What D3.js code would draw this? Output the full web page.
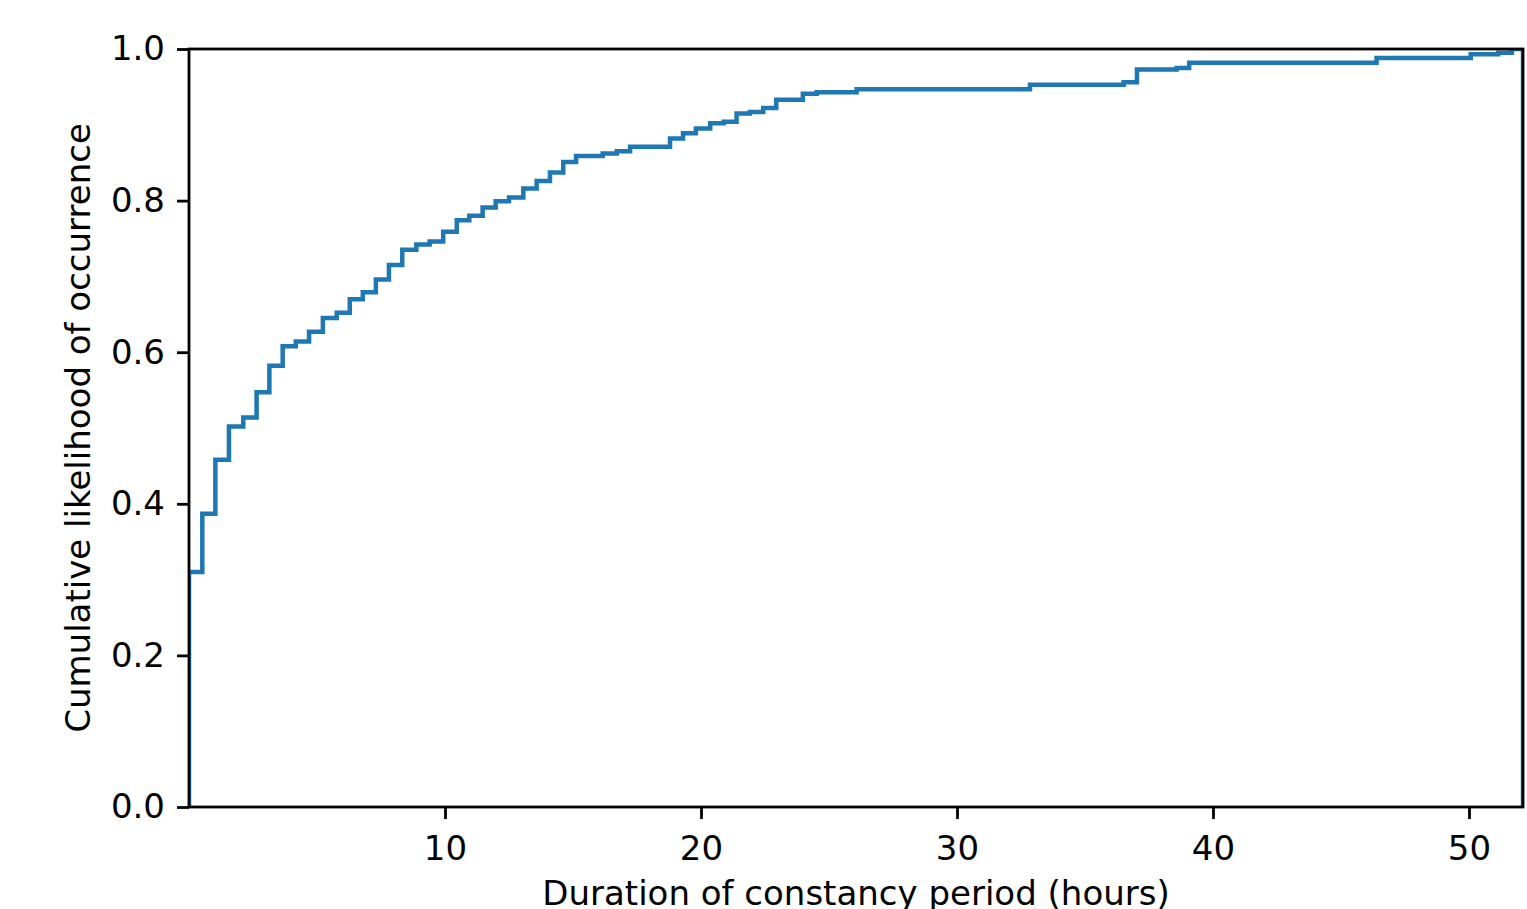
<!DOCTYPE html>
<html>
<head>
<meta charset="utf-8">
<script src="https://cdn.jsdelivr.net/npm/d3@7"></script>
<style>
    body { margin: 0; background: #fff; }
    svg { display: block; }
</style>
</head>
<body>
<div id="chart"></div>
<script>
// Riser positions (hours) of the cumulative step curve, and the level after each riser
const stepHours = [0, 0.52, 1.03, 1.56, 2.12, 2.64, 3.14, 3.66, 4.17, 4.69, 5.23, 5.77, 6.28, 6.79,
    7.30, 7.81, 8.33, 8.88, 9.40, 9.93, 10.46, 10.95, 11.47, 11.98, 12.50, 13.06, 13.58, 14.10,
    14.62, 15.12, 16.16, 16.71, 17.23, 18.79, 19.30, 19.80, 20.36, 20.89, 21.39, 21.91, 22.43,
    22.94, 23.98, 24.52, 26.08, 32.85, 36.51, 37.03, 38.58, 39.07, 46.39, 50.07, 51.14, 51.67];
const stepLevels = [0.310, 0.387, 0.458, 0.502, 0.514, 0.547, 0.582, 0.608, 0.614, 0.627, 0.645,
    0.652, 0.670, 0.679, 0.696, 0.715, 0.735, 0.742, 0.746, 0.759, 0.774, 0.780, 0.791, 0.799,
    0.804, 0.816, 0.826, 0.837, 0.851, 0.859, 0.862, 0.865, 0.871, 0.882, 0.889, 0.895, 0.902,
    0.904, 0.915, 0.917, 0.922, 0.933, 0.941, 0.943, 0.947, 0.953, 0.956, 0.973, 0.975, 0.982,
    0.988, 0.993, 0.995, 1.0];
const maxHours = 52.11;
const xTicks = [10, 20, 30, 40, 50];
const yTicks = [0, 0.2, 0.4, 0.6, 0.8, 1.0];

const width = 1527;
const height = 909;
const margin = { top: 49, right: 4, bottom: 102, left: 189 };
const innerWidth = width - margin.left - margin.right;
const innerHeight = height - margin.top - margin.bottom;
const font = "'DejaVu Sans', sans-serif";

const svg = d3.select("#chart")
    .append("svg")
    .attr("width", width)
    .attr("height", height);

svg.append("defs")
    .append("clipPath")
    .attr("id", "plot-clip")
    .append("rect")
    .attr("width", innerWidth)
    .attr("height", innerHeight);

const g = svg.append("g")
    .attr("transform", `translate(${margin.left},${margin.top})`);

const x = d3.scaleLinear()
    .domain([0, maxHours])
    .range([0, innerWidth]);

const y = d3.scaleLinear()
    .domain([0, 1])
    .range([innerHeight, 0]);

// Step outline: up from zero, along the levels, back down at the right edge
const points = [[0, 0]];
stepHours.forEach((h, i) => points.push([h, stepLevels[i]]));
points.push([maxHours, 1.0]);
points.push([maxHours, 0]);

const line = d3.line()
    .x(d => x(d[0]))
    .y(d => y(d[1]))
    .curve(d3.curveStepAfter);

g.append("path")
    .datum(points)
    .attr("clip-path", "url(#plot-clip)")
    .attr("fill", "none")
    .attr("stroke", "#1f77b4")
    .attr("stroke-width", 4.5)
    .attr("d", line);

// Axes
const xAxis = g.append("g")
    .attr("transform", `translate(0,${innerHeight})`)
    .call(d3.axisBottom(x).tickValues(xTicks).tickSize(12).tickPadding(17).tickFormat(d3.format("d")));

const yAxis = g.append("g")
    .call(d3.axisLeft(y).tickValues(yTicks).tickSize(12).tickPadding(12).tickFormat(d3.format(".1f")));

[xAxis, yAxis].forEach(ax => {
    ax.select(".domain").remove();
    ax.selectAll("line").attr("stroke", "#000").attr("stroke-width", 2.8);
    ax.selectAll("text")
        .style("font-family", font)
        .style("font-size", "34px")
        .style("fill", "#000");
});

// Frame
g.append("rect")
    .attr("width", innerWidth)
    .attr("height", innerHeight)
    .attr("fill", "none")
    .attr("stroke", "#000")
    .attr("stroke-width", 2.8);

// Labels
svg.append("text")
    .attr("x", margin.left + innerWidth / 2)
    .attr("y", 905)
    .attr("text-anchor", "middle")
    .style("font-family", font)
    .style("font-size", "34px")
    .style("fill", "#000")
    .text("Duration of constancy period (hours)");

svg.append("text")
    .attr("transform", `translate(90,${margin.top + innerHeight / 2}) rotate(-90)`)
    .attr("text-anchor", "middle")
    .style("font-family", font)
    .style("font-size", "34px")
    .style("fill", "#000")
    .text("Cumulative likelihood of occurrence");
</script>
</body>
</html>
